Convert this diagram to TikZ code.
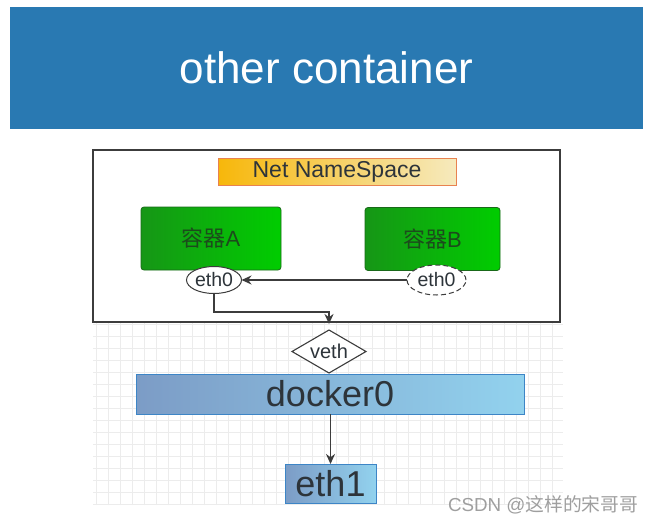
\documentclass[tikz,border=0pt]{standalone}
\usepackage{fontspec}
\setmainfont{Liberation Sans}
\newfontfamily\cjk{Noto Sans CJK SC}
\usetikzlibrary{shapes.geometric,arrows.meta}
\definecolor{bannerblue}{RGB}{41,121,178}
\definecolor{nsleft}{RGB}{247,183,10}
\definecolor{nsright}{RGB}{246,234,190}
\definecolor{nsborder}{RGB}{232,130,80}
\definecolor{gleft}{RGB}{22,150,22}
\definecolor{gright}{RGB}{0,205,0}
\definecolor{gborder}{RGB}{25,105,25}
\definecolor{gtext}{RGB}{28,75,28}
\definecolor{bleft}{RGB}{124,156,198}
\definecolor{bright}{RGB}{146,210,238}
\definecolor{bborder}{RGB}{61,133,198}
\definecolor{darktext}{RGB}{45,52,58}
\definecolor{linegray}{RGB}{60,60,60}
\definecolor{gridgray}{RGB}{236,236,236}
\tikzset{
  every node/.style={inner sep=0pt, outer sep=0pt},
  greenbox/.style={draw=gborder, line width=0.8pt, rounded corners=3pt, left color=gleft, right color=gright, minimum height=63pt, text=gtext, font=\fontsize{22}{22}\selectfont},
  bluebar/.style={draw=bborder, line width=1pt, left color=bleft, right color=bright, text=darktext},
  ethnode/.style={ellipse, draw=linegray, line width=1pt, fill=white, font=\fontsize{19.5}{19.5}\selectfont, text=darktext},
  conn/.style={draw=linegray, line width=1.6pt, -{Stealth[length=10pt,width=9pt]}},
}
\begin{document}
\begin{tikzpicture}[x=1pt,y=-1pt]
\useasboundingbox (0,0) rectangle (655,522);
\fill[white] (0,0) rectangle (655,522);
% grid
\draw[gridgray, line width=0.5pt] (93,322) grid[step=12pt] (563,505);
% banner
\node[fill=bannerblue, minimum width=633pt, minimum height=122pt, text=white, font=\fontsize{44}{44}\selectfont] (banner) at (326.5,68) {other container};
% outer box
\node[draw=linegray, line width=1.4pt, fill=white, minimum width=467pt, minimum height=172pt] (outer) at (326.5,236) {};
% namespace
\node[draw=nsborder, line width=1pt, left color=nsleft, right color=nsright, minimum width=238pt, minimum height=27pt, text=darktext, font=\fontsize{23}{23}\selectfont] (ns) at (337,171.5) {Net NameSpace};
% containers
\node[greenbox, minimum width=140pt] (ca) at (211,238.5) {{\cjk 容器}A};
\node[greenbox, minimum width=135pt] (cb) at (432.5,239) {{\cjk 容器}B};
% eth0 nodes
\node[ethnode, minimum width=55pt, minimum height=27pt] (ea) at (214,280) {eth0};
\node[ethnode, dashed, dash pattern=on 5pt off 3pt, minimum width=59pt, minimum height=30pt] (eb) at (436.5,280) {eth0};
% veth
\node[diamond, shape aspect=1.72, draw=linegray, line width=1.1pt, fill=white, minimum width=74pt, minimum height=43pt, font=\fontsize{20}{20}\selectfont, text=darktext] (veth) at (329,351.5) {veth};
% docker0
\node[bluebar, minimum width=388pt, minimum height=40pt, font=\fontsize{36}{36}\selectfont] (docker) at (330,394) {docker0};
% eth1
\node[bluebar, minimum width=91pt, minimum height=39pt, font=\fontsize{36}{36}\selectfont] (eth1) at (330.5,483.5) {eth1};
% connectors
\draw[conn] (eb.west) -- (ea.east);
\draw[conn, shorten >=6pt] (ea.south) |- (329,312) -- (veth.north);
\draw[conn] (docker.south -| eth1.north) -- (eth1.north);
% watermark
\node[anchor=base west, text=gray!75, font=\fontsize{18.8}{18.8}\selectfont] (wm) at (448,511) {CSDN @{\cjk 这样的宋哥哥}};
\end{tikzpicture}
\end{document}
